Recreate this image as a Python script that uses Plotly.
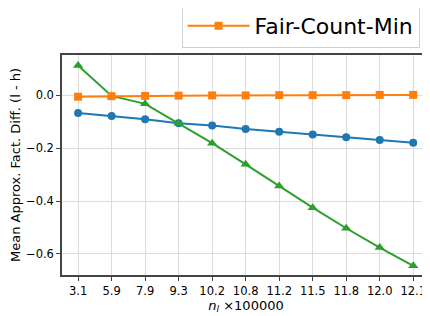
import plotly.graph_objects as go

categories = ["3.1", "5.9", "7.9", "9.3", "10.2", "10.8", "11.2", "11.5", "11.8", "12.0", "12.1"]
blue_vals = [-0.067, -0.078, -0.090, -0.105, -0.114, -0.127, -0.138, -0.148, -0.158, -0.169, -0.179]
orange_vals = [-0.005, -0.003, -0.002, -0.001, 0.000, 0.000, 0.001, 0.001, 0.001, 0.002, 0.002]
green_vals = [0.113, -0.002, -0.032, -0.105, -0.181, -0.261, -0.343, -0.425, -0.503, -0.576, -0.645]

FONT = "DejaVu Sans"
xs = list(range(len(categories)))

fig = go.Figure()
fig.add_trace(go.Scatter(x=xs, y=blue_vals, mode="lines+markers", name="blue",
                         line=dict(color="#1f77b4", width=2),
                         marker=dict(symbol="circle", size=8, color="#1f77b4"),
                         showlegend=False))
fig.add_trace(go.Scatter(x=xs, y=green_vals, mode="lines+markers", name="green",
                         line=dict(color="#2ca02c", width=2),
                         marker=dict(symbol="triangle-up", size=9, color="#2ca02c"),
                         showlegend=False))
fig.add_trace(go.Scatter(x=xs, y=orange_vals, mode="lines+markers", name="Fair-Count-Min",
                         line=dict(color="#ff7f0e", width=2),
                         marker=dict(symbol="square", size=8, color="#ff7f0e"),
                         showlegend=True))

# page body has an 8px default margin, so the figure is sized/offset to compensate
fig.update_layout(
    width=422, height=308,
    margin=dict(l=54, r=0, t=47, b=41, autoexpand=False),
    paper_bgcolor="white", plot_bgcolor="white",
    font=dict(family=FONT, size=13, color="black"),
    legend=dict(x=0.325, y=1.232, xanchor="left", yanchor="top",
                font=dict(size=22, family=FONT),
                bordercolor="#d0d0d0", borderwidth=1,
                bgcolor="white", itemwidth=62),
    xaxis=dict(
        tickmode="array", tickvals=xs, ticktext=categories,
        range=[-0.48, 10.5],
        showgrid=True, gridcolor="#dcdcdc", gridwidth=1,
        showline=True, linecolor="#444444", linewidth=1.5, mirror=True,
        ticks="outside", ticklen=4, tickcolor="#444444",
        tickfont=dict(size=11.5),
        zeroline=False, automargin=False,
        title=dict(text="<i>n<sub>l</sub></i> ×100000", font=dict(size=13), standoff=3),
    ),
    yaxis=dict(
        range=[-0.68, 0.153],
        tickvals=[0.0, -0.2, -0.4, -0.6], tickformat=".1f",
        showgrid=True, gridcolor="#dcdcdc", gridwidth=1,
        showline=True, linecolor="#444444", linewidth=1.5, mirror=True,
        ticks="outside", ticklen=4, tickcolor="#444444",
        tickfont=dict(size=11.5),
        zeroline=False, automargin=False,
        title=dict(text="Mean Approx. Fact. Diff. (l - h)", font=dict(size=13), standoff=10),
    ),
)

fig.write_html("out.html")
